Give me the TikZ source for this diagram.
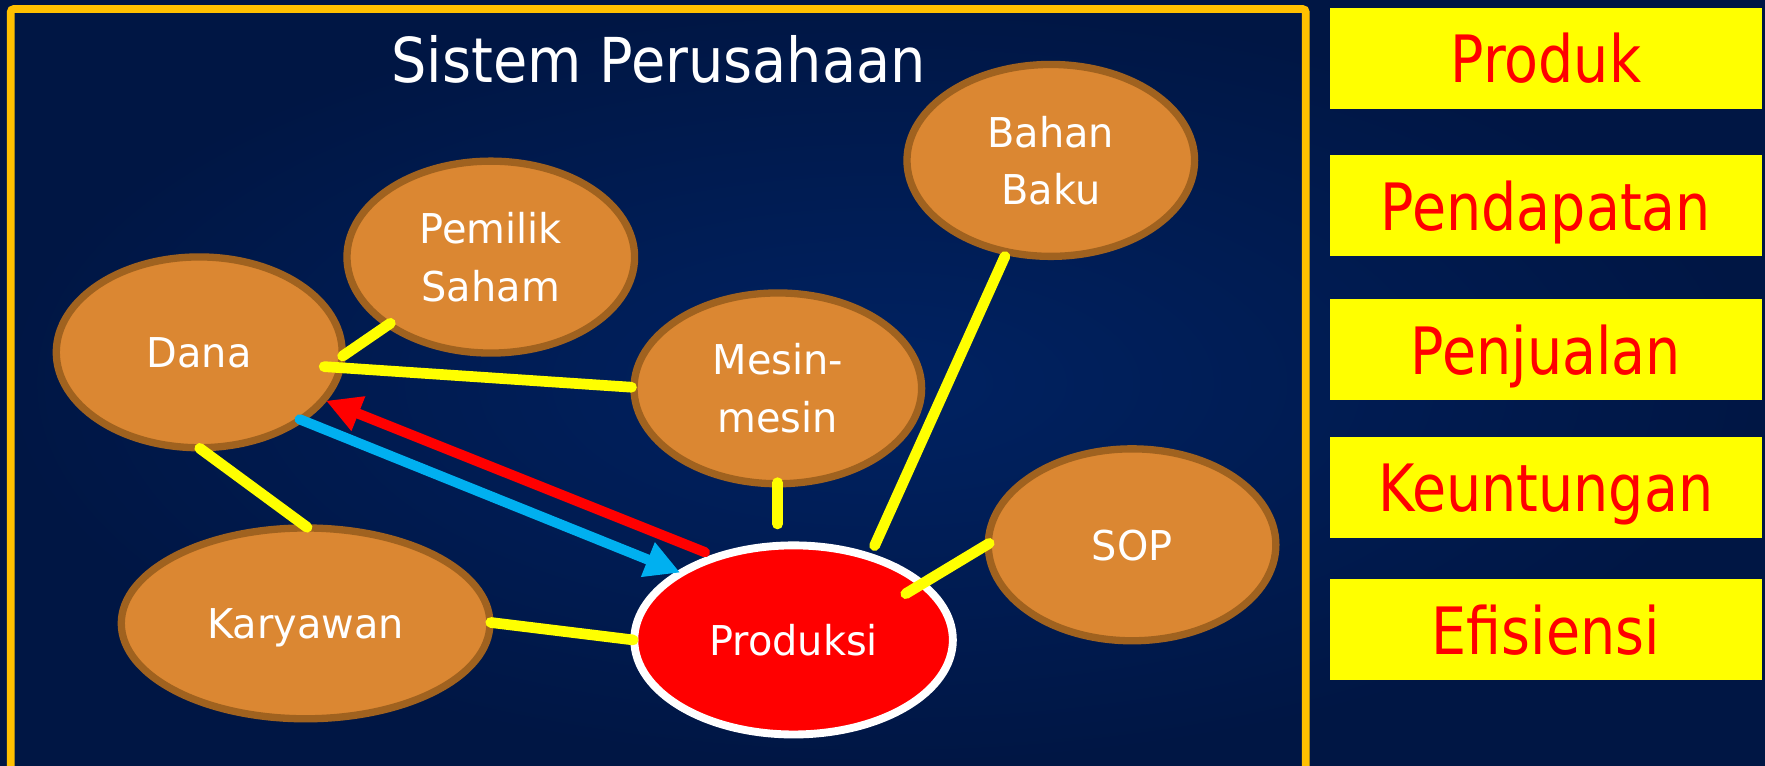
\documentclass[tikz,border=0pt]{standalone}
\usepackage{fontspec}
\usetikzlibrary{shapes.geometric,arrows.meta}
\newfontfamily\titlefont[FakeStretch=0.9]{DejaVu Sans}
\newfontfamily\nodefont[FakeStretch=0.97]{DejaVu Sans}
\newfontfamily\boxfont[FakeStretch=0.85]{DejaVu Sans}
\definecolor{bgin}{HTML}{002262}
\definecolor{bgout}{HTML}{001644}
\definecolor{framec}{HTML}{FFC000}
\definecolor{orangec}{HTML}{DB8732}
\definecolor{brownc}{HTML}{A0621F}
\definecolor{yelc}{HTML}{FFFF00}
\definecolor{bluec}{HTML}{00B0F0}
\definecolor{redc}{HTML}{FF0000}
\begin{document}
\begin{tikzpicture}[x=1pt,y=-1pt,
  oval/.style={ellipse, draw=brownc, fill=orangec, line width=6.5pt, inner sep=0pt, outer sep=0pt,
    minimum width=255.5pt, minimum height=170.5pt, text=white, align=center, text depth=0pt,
    font={\nodefont\fontsize{36.5pt}{51.5pt}\selectfont}},
  prodoval/.style={oval, draw=white, fill=redc, line width=7pt, minimum width=283pt, minimum height=168pt},
  sidebox/.style={rectangle, fill=yelc, inner sep=0pt, outer sep=0pt, minimum width=383.5pt,
    minimum height=89.5pt, text=redc, text depth=0pt, font={\boxfont\fontsize{58pt}{60pt}\selectfont}},
  link/.style={draw=yelc, line width=9.5pt, line cap=round},
  flow/.style={line width=9pt, line cap=round, -{Triangle[length=31pt,width=31pt]}},
  titletext/.style={text=white, inner sep=0pt, text depth=0pt, font={\titlefont\fontsize{55pt}{60pt}\selectfont}}
]
\useasboundingbox (0,0) rectangle (1568,680);
\begin{scope}
\clip (0,0) rectangle (1568,680);
\shade[inner color=bgin, outer color=bgout] (0,0) rectangle (1568,680);
\draw[framec, line width=7pt, rounded corners=3pt] (9.5,720) -- (9.5,8) -- (1160,8) -- (1160,720);
\end{scope}

\node[titletext] (title) at (585,52.5) {Sistem Perusahaan};

\node[oval, minimum width=254pt, minimum height=169.5pt] (dana) at (177,313) {Dana};
\node[oval] (pemilik) at (436,228.4) {Pemilik\\Saham};
\node[oval] (bahan) at (933.5,142.5) {Bahan\\Baku};
\node[oval, minimum height=169.5pt] (mesin) at (691,345) {Mesin-\\mesin};
\node[oval] (sop) at (1005.7,484) {SOP};
\node[oval, minimum width=327.5pt, minimum height=169.5pt] (karyawan) at (271.5,553.8) {Karyawan};
\node[prodoval] (produksi) at (705,568.5) {Produksi};

\draw[link] ([shift={(127.4,3.3)}]dana.center) -- ([shift={(-89.2,58.8)}]pemilik.center);
\draw[link] ([shift={(111,12.7)}]dana.center) -- ([shift={(-130,-1)}]mesin.center);
\draw[link] ([shift={(0.5,85.3)}]dana.center) -- ([shift={(1.3,-85.4)}]karyawan.center);
\draw[link] ([shift={(164.5,-0.8)}]karyawan.center) -- ([shift={(-142.5,0)}]produksi.center);
\draw[link] ([shift={(-0.2,83.8)}]mesin.center) -- ([shift={(-14.2,-103)}]produksi.center);
\draw[link] ([shift={(-40.8,85.4)}]bahan.center) -- ([shift={(72,-83.8)}]produksi.center);
\draw[link] ([shift={(-126.9,-1.3)}]sop.center) -- ([shift={(99.7,-41.1)}]produksi.center);

\draw[flow, draw=redc, fill=redc] ([shift={(-78.7,-77.9)}]produksi.center) -- ([shift={(112.6,43)}]dana.center);
\draw[flow, draw=bluec, fill=bluec] ([shift={(89.2,59.5)}]dana.center) -- ([shift={(-100.7,-59.8)}]produksi.center);

\node[sidebox] (produk) at (1373.25,51.7) {Produk};
\node[sidebox] (pendapatan) at (1373.25,182.5) {Pendapatan};
\node[sidebox] (penjualan) at (1373.25,310.5) {Penjualan};
\node[sidebox] (keuntungan) at (1373.25,433) {Keuntungan};
\node[sidebox] (efisiensi) at (1373.25,559) {Efisiensi};
\end{tikzpicture}
\end{document}
